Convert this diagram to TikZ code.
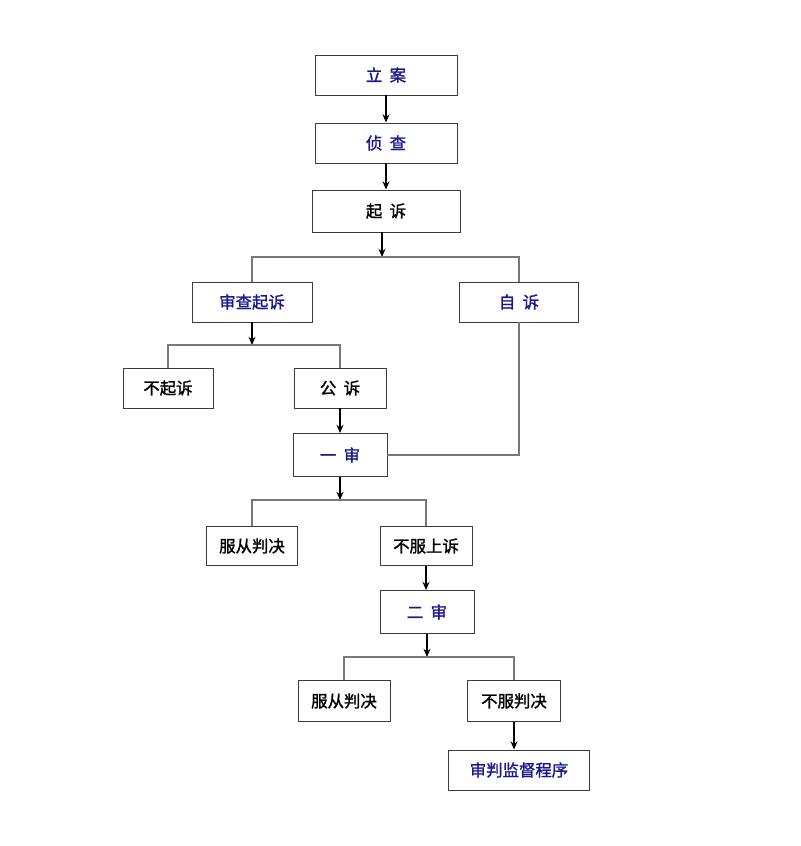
\documentclass[tikz,border=0pt]{standalone}
\usepackage{fontspec}
\newfontfamily\cjk{Noto Sans CJK SC}[AutoFakeBold=1.5]
\usepackage{xcolor}
\usetikzlibrary{arrows.meta}
\definecolor{navy}{RGB}{25,25,140}
\definecolor{edge}{RGB}{60,60,60}
\definecolor{wire}{RGB}{120,120,120}
\begin{document}
\begin{tikzpicture}[x=0.03cm,y=-0.03cm,
  box/.style={draw=edge,line width=0.8pt,fill=white,inner sep=0pt,font=\cjk\bfseries\fontsize{14}{16}\selectfont},
  bluebox/.style={box,text=navy},
  wire/.style={draw=wire,line width=1.2pt},
  arr/.style={draw=black,line width=1.2pt,-{Stealth[length=7pt,width=6pt]}}]
\useasboundingbox (0,0) rectangle (800,846);
% Top chain
\node[bluebox,minimum width=4.26cm,minimum height=1.2cm] (la) at (386,75) {立\ \ 案};
\node[bluebox,minimum width=4.26cm,minimum height=1.2cm] (zc) at (386,143) {侦\ \ 查};
\node[box,minimum width=4.44cm,minimum height=1.26cm] (qs) at (386,211) {起\ \ 诉};
\draw[arr] (la) -- (zc);
\draw[arr] (zc) -- (qs);
% First branch
\coordinate (j1) at (382,257);
\node[bluebox,minimum width=3.6cm,minimum height=1.2cm] (sc) at (252,302) {审查起诉};
\node[bluebox,minimum width=3.57cm,minimum height=1.2cm] (zs) at (519,302) {自\ \ 诉};
\draw[arr] (qs.south -| j1) -- (j1);
\draw[wire] (sc.north) -- (sc.north |- j1) -- (zs.north |- j1) -- (zs.north);
% Second branch
\coordinate (j2) at (252,345);
\node[box,minimum width=2.7cm,minimum height=1.2cm] (bqs) at (168,388) {不起诉};
\node[box,minimum width=2.76cm,minimum height=1.2cm] (gs) at (340,388) {公\ \ 诉};
\draw[arr] (sc) -- (j2);
\draw[wire] (bqs.north) -- (bqs.north |- j2) -- (gs.north |- j2) -- (gs.north);
% First trial
\node[bluebox,minimum width=2.82cm,minimum height=1.29cm] (ys) at (340,455) {一\ \ 审};
\draw[arr] (gs) -- (ys);
\draw[wire] (zs.south) -- (zs.south |- ys) -- (ys.east);
\coordinate (j3) at (340,500);
\node[box,minimum width=2.73cm,minimum height=1.17cm] (fc1) at (252,546) {服从判决};
\node[box,minimum width=2.76cm,minimum height=1.17cm] (sus) at (426,546) {不服上诉};
\draw[arr] (ys) -- (j3);
\draw[wire] (fc1.north) -- (fc1.north |- j3) -- (sus.north |- j3) -- (sus.north);
% Second trial
\node[bluebox,minimum width=2.82cm,minimum height=1.29cm] (es) at (427,612) {二\ \ 审};
\draw[arr] (sus.south) -- (sus.south |- es.north);
\coordinate (j4) at (427,657);
\node[box,minimum width=2.76cm,minimum height=1.23cm] (fc2) at (344,701) {服从判决};
\node[box,minimum width=2.79cm,minimum height=1.23cm] (bfp) at (514,701) {不服判决};
\draw[arr] (es) -- (j4);
\draw[wire] (fc2.north) -- (fc2.north |- j4) -- (bfp.north |- j4) -- (bfp.north);
\node[bluebox,minimum width=4.23cm,minimum height=1.2cm] (jd) at (519,770) {审判监督程序};
\draw[arr] (bfp.south) -- (bfp.south |- jd.north);
\end{tikzpicture}
\end{document}
